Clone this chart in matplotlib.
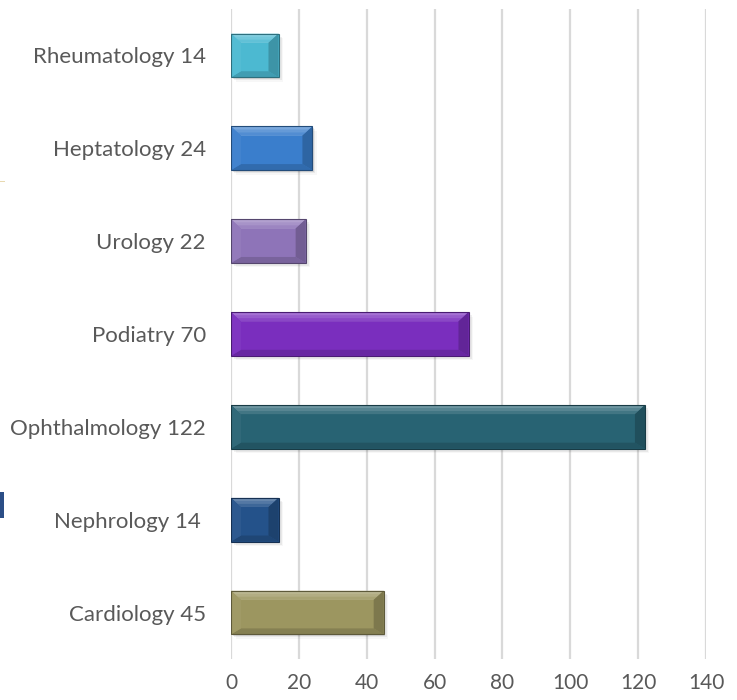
import numpy as np
import matplotlib
matplotlib.use("Agg")
import matplotlib.pyplot as plt
from matplotlib.patches import Rectangle, Polygon
import matplotlib.colors as mcolors

# data, bottom to top
labels = ["Cardiology 45", "Nephrology 14 ", "Ophthalmology 122", "Podiatry 70",
          "Urology 22", "Heptatology 24", "Rheumatology 14"]
values = [45, 14, 122, 70, 22, 24, 14]
colors = ["#9C9660", "#24528A", "#286373", "#7A2EBE", "#8E74B8", "#3A7ECC", "#4CB9D1"]
xticks = [0, 20, 40, 60, 80, 100, 120, 140]

W, H = 737, 700
fig = plt.figure(figsize=(W / 100, H / 100), dpi=100)
ax = fig.add_axes([231 / W, 41 / H, 475 / W, 650 / H])

ax.set_xlim(0, 140)
ax.set_ylim(-0.5, len(values) - 0.5)
ax.set_xticks(xticks)
ax.grid(axis="x", color="#D9D9D9", linewidth=1.6)
ax.set_axisbelow(True)
for s in ax.spines.values():
    s.set_visible(False)
ax.tick_params(length=0, labelcolor="#595959")
ax.tick_params(axis="x", pad=10, labelsize=15)
ax.tick_params(axis="y", pad=18, labelsize=16)
ax.set_yticks(range(len(values)))
ax.set_yticklabels(labels)
for t in ax.get_xticklabels() + ax.get_yticklabels():
    t.set_fontfamily("Lato")

# pixel -> data scale
pxx = 140 / 475
pxy = len(values) / 650
h = 0.47

def shade(c, f):
    r, g, b = mcolors.to_rgb(c)
    if f > 0:
        return (r + (1 - r) * f, g + (1 - g) * f, b + (1 - b) * f)
    return (r * (1 + f), g * (1 + f), b * (1 + f))

for i, (v, c) in enumerate(zip(values, colors)):
    y0, y1 = i - h / 2, i + h / 2
    # shadow
    for k, a in enumerate([0.10, 0.06, 0.03]):
        d = (k + 1) * 1.5
        ax.add_patch(Rectangle((d * pxx, y0 - d * pxy), v, h, color="black",
                               alpha=a, lw=0, zorder=2))
    ax.barh(i, v, height=h, color=c, zorder=3)
    bx = min(10 * pxx, v / 3)
    bt = 9 * pxy
    bb = 6 * pxy
    # top bevel (gradient-ish)
    for j, f in enumerate([0.32, 0.22, 0.12]):
        off = bt * j / 3
        ax.add_patch(Polygon([(bx * j / 3, y1 - off), (v - bx * j / 3, y1 - off),
                              (v - bx, y1 - bt), (bx, y1 - bt)],
                             closed=True, color=shade(c, f), lw=0, zorder=4))
    # bottom bevel
    ax.add_patch(Polygon([(0, y0), (v, y0), (v - bx, y0 + bb), (bx, y0 + bb)],
                         closed=True, color=shade(c, -0.15), lw=0, zorder=4))
    # left bevel
    ax.add_patch(Polygon([(0, y0), (0, y1), (bx, y1 - bt), (bx, y0 + bb)],
                         closed=True, color=shade(c, 0.04), lw=0, zorder=4))
    # right bevel
    ax.add_patch(Polygon([(v, y0), (v, y1), (v - bx, y1 - bt), (v - bx, y0 + bb)],
                         closed=True, color=shade(c, -0.2), lw=0, zorder=4))
    ax.barh(i, v, height=h, fill=False, edgecolor=shade(c, -0.4), linewidth=0.8, zorder=5)

# cropped fragments at the left edge
fig.add_artist(Rectangle((0, (H - 518) / H), 4 / W, 26 / H, transform=fig.transFigure,
                         color="#2B4E86", lw=0))
fig.add_artist(Rectangle((0, (H - 182) / H), 5 / W, 1.5 / H, transform=fig.transFigure,
                         color="#E8D9B0", lw=0))

fig.savefig("out.png", dpi=100)
